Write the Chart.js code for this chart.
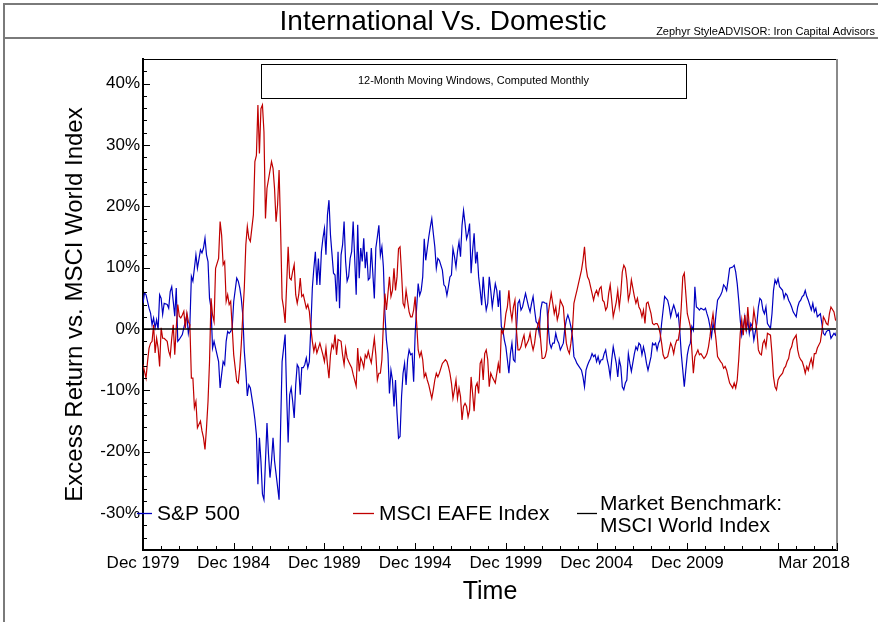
<!DOCTYPE html>
<html>
<head>
<meta charset="utf-8">
<script src="https://cdn.jsdelivr.net/npm/chart.js@4.4.1/dist/chart.umd.min.js"></script>
<style>
  html, body { margin: 0; padding: 0; background: #fff; }
  #wrap { width: 878px; height: 622px; }
</style>
</head>
<body>
<div id="wrap"><canvas id="chart" width="878" height="622"></canvas></div>
<script>
// texts
const chartTitle = "International Vs. Domestic";
const sourceNote = "Zephyr StyleADVISOR: Iron Capital Advisors";
const boxNote = "12-Month Moving Windows, Computed Monthly";
const yTitle = "Excess Return vs. MSCI World Index";
const xTitle = "Time";

// x axis = months since Dec 1979 (0) .. Mar 2018 (459)
const xMin = 0, xMax = 459;
const xTickLabels = { 0: "Dec 1979", 60: "Dec 1984", 120: "Dec 1989", 180: "Dec 1994",
  240: "Dec 1999", 300: "Dec 2004", 360: "Dec 2009", 459: "Mar 2018" };
const xMajorTicks = [0, 60, 120, 180, 240, 300, 360, 420, 459];
const yMin = -36, yMax = 44, yMinorStep = 2, yMajorStep = 10;

// [month, excess return %]
const sp500Excess = [
  [0,4.2],[1,5.9],[2,5.6],[4,3.4],[5,2.6],[6,0.7],[7,1.8],[8,0.2],[9,1.5],[10,-0.1],
  [11,5.6],[12,5.0],[13,2.4],[14,4.2],[16,4.0],[17,3.4],[18,6.1],[19,6.9],[20,4.5],[21,2.1],
  [22,6.7],[23,-2.0],[24,-1.7],[26,-0.9],[27,0.2],[28,1.2],[29,2.3],[30,-0.7],[31,0.7],[32,8.6],
  [33,7.8],[34,9.9],[35,12.1],[36,9.9],[38,12.9],[39,12.4],[40,13.2],[41,14.8],[42,12.1],[43,11.0],
  [44,5.0],[45,3.4],[46,-3.1],[47,-2.0],[48,-3.1],[50,-5.3],[51,-9.6],[52,-7.4],[53,-5.3],[54,-5.8],
  [55,-2.0],[56,-0.4],[57,-0.7],[58,-0.4],[59,0.2],[60,4.5],[62,8.3],[63,7.8],[64,6.7],[65,5.0],
  [66,2.3],[67,-3.6],[68,-6.9],[69,-10.9],[70,-9.1],[71,-9.6],[73,-12.8],[74,-14.7],[75,-17.2],[76,-25.3],
  [77,-17.7],[78,-21.5],[79,-26.9],[80,-27.8],[81,-21.5],[82,-15.3],[83,-20.4],[84,-24.2],[85,-21.5],[86,-17.7],
  [87,-21.5],[90,-27.8],[91,-16.1],[92,-5.3],[93,-3.1],[94,-0.9],[95,-10.7],[96,-18.5],[97,-10.7],[98,-9.6],
  [99,-11.8],[100,-14.5],[101,-9.1],[102,-5.8],[103,-6.3],[104,-10.7],[105,-6.3],[106,-6.3],[107,-5.8],[108,-4.7],
  [109,-6.3],[110,-5.3],[111,0.2],[112,6.7],[113,9.9],[114,12.6],[115,7.2],[116,11.5],[117,7.2],[118,12.6],
  [119,14.8],[120,16.4],[121,12.1],[122,18.6],[123,21.0],[124,15.3],[126,9.1],[127,8.8],[128,4.5],[129,12.6],
  [130,3.4],[131,12.1],[132,13.7],[133,17.5],[134,11.0],[135,7.8],[136,8.6],[137,11.5],[138,12.6],[139,17.5],
  [141,5.6],[142,17.0],[143,8.3],[144,13.2],[145,11.0],[146,14.8],[147,9.9],[148,12.6],[149,8.0],[150,8.3],
  [151,13.2],[153,5.0],[154,13.2],[155,15.0],[156,16.9],[157,12.0],[158,13.4],[159,10.1],[160,2.5],[161,-1.8],
  [162,-4.0],[163,-10.5],[164,-6.7],[165,-8.3],[166,-12.6],[167,-8.3],[168,-13.7],[169,-17.8],[170,-17.5],[171,-11.0],
  [172,-7.2],[173,-5.6],[174,-9.1],[175,-5.0],[176,-3.4],[177,-4.2],[178,-4.0],[179,-8.6],[180,-0.7],[181,3.6],
  [182,7.4],[183,5.5],[184,6.3],[185,8.5],[186,14.7],[187,11.2],[188,13.1],[189,15.0],[190,16.6],[191,18.0],
  [192,15.6],[193,13.4],[194,9.9],[195,11.5],[196,11.2],[198,9.6],[199,7.2],[200,6.9],[201,5.5],[202,6.9],
  [203,8.5],[204,8.8],[205,13.1],[206,11.8],[207,10.1],[208,12.6],[209,14.2],[210,11.8],[211,16.9],[212,19.3],
  [213,17.2],[214,14.7],[215,15.6],[216,17.2],[217,9.1],[218,12.8],[219,15.6],[220,10.7],[221,12.6],[222,8.5],
  [223,6.3],[224,3.9],[225,8.5],[226,5.3],[227,3.1],[228,4.2],[229,8.5],[230,6.3],[231,3.6],[233,7.4],
  [234,6.3],[235,3.6],[236,6.3],[237,0.4],[238,-0.2],[239,-1.8],[240,-2.9],[241,-5.0],[242,-7.2],[243,-4.0],
  [244,-2.3],[245,-5.0],[246,-5.3],[247,-0.2],[248,4.2],[249,4.7],[250,3.1],[251,3.6],[252,4.7],[253,5.8],
  [255,3.6],[256,2.8],[257,4.2],[258,5.3],[259,3.1],[260,1.2],[261,0.9],[262,-0.7],[263,3.1],[264,4.4],
  [265,4.4],[266,4.2],[267,4.2],[268,0.4],[269,-2.3],[270,-3.1],[271,-2.3],[272,-2.3],[273,-0.7],[274,-1.8],
  [275,-2.3],[276,-3.4],[278,-2.3],[279,0.1],[280,1.5],[281,2.3],[282,1.5],[283,0.4],[284,-1.2],[285,-4.5],
  [286,-5.0],[287,-5.6],[290,-6.7],[291,-7.8],[292,-9.4],[293,-6.7],[294,-5.9],[295,-5.3],[296,-4.8],[297,-4.0],
  [298,-4.5],[299,-4.2],[300,-5.3],[301,-4.5],[302,-5.6],[303,-5.0],[304,-5.0],[305,-4.0],[306,-3.4],[307,-5.0],
  [308,-6.1],[309,-7.8],[310,-5.0],[311,-2.9],[313,-5.6],[314,-7.8],[315,-5.0],[316,-6.1],[317,-9.4],[318,-9.9],
  [319,-8.8],[320,-8.3],[321,-4.0],[322,-5.6],[323,-6.9],[325,-4.0],[326,-2.9],[327,-3.4],[328,-2.3],[329,-2.6],
  [330,-4.2],[331,-2.9],[332,-4.0],[333,-5.6],[334,-6.7],[336,-4.5],[337,-2.3],[338,-2.6],[339,-2.3],[340,-3.4],
  [341,-2.3],[342,-1.8],[343,0.9],[344,3.1],[345,5.3],[347,4.7],[348,3.6],[349,2.0],[350,3.1],[351,3.9],
  [352,3.1],[353,2.0],[354,2.5],[355,-0.2],[356,-4.0],[357,-6.7],[358,-9.4],[359,-6.7],[360,-4.2],[361,-2.9],
  [362,-2.3],[363,0.4],[364,-0.2],[365,6.9],[366,3.6],[367,3.4],[368,3.1],[369,3.4],[371,3.1],[372,3.4],
  [373,2.5],[374,1.7],[375,0.4],[376,-1.2],[377,0.9],[378,-0.2],[379,2.5],[380,4.7],[382,5.5],[383,6.1],
  [384,7.2],[385,6.9],[386,6.3],[387,8.0],[388,9.9],[390,10.1],[391,10.4],[392,9.3],[393,7.4],[394,4.7],
  [395,1.5],[396,-1.0],[397,0.4],[398,2.0],[399,-0.2],[400,1.5],[401,-0.7],[402,0.9],[403,0.4],[404,-1.8],
  [406,0.9],[407,3.6],[408,5.0],[409,4.7],[410,3.1],[411,2.5],[412,3.6],[413,0.9],[415,0.1],[416,2.5],
  [417,6.3],[418,8.0],[419,7.4],[420,8.2],[421,6.9],[423,6.3],[424,5.0],[425,5.8],[426,5.5],[427,4.7],
  [428,4.2],[429,3.6],[430,2.8],[432,2.0],[433,3.6],[434,4.4],[435,4.7],[436,5.3],[437,5.5],[438,6.3],
  [439,5.3],[440,4.7],[441,3.9],[442,3.1],[443,4.2],[444,2.8],[445,3.4],[446,2.0],[448,2.5],[449,0.9],
  [450,-0.7],[451,-1.0],[452,-0.4],[453,-0.2],[454,-0.2],[455,-1.5],[457,-0.7],[458,-1.0],[459,-0.2]
];

const eafeExcess = [
  [0,-5.8],[1,-6.9],[2,-8.0],[3,-5.3],[4,-3.1],[5,-2.3],[6,-2.0],[7,0.7],[8,-3.9],[9,-1.5],
  [10,-3.1],[11,-6.1],[12,0.2],[13,-1.5],[14,-1.5],[16,-2.0],[17,-3.6],[18,-4.4],[19,-1.5],[20,0.7],
  [21,-4.2],[22,0.2],[23,4.0],[24,2.1],[25,1.8],[26,2.3],[27,2.9],[28,0.2],[29,2.6],[30,1.2],
  [31,0.7],[32,-8.0],[33,-8.0],[34,-12.8],[35,-11.8],[36,-16.1],[38,-15.0],[39,-16.6],[40,-17.7],[41,-19.6],
  [42,-16.1],[43,-11.8],[44,-5.3],[45,5.0],[46,2.3],[47,1.2],[48,9.9],[50,11.5],[51,17.5],[52,15.3],
  [53,10.5],[54,11.0],[55,4.5],[56,5.6],[57,4.0],[58,4.5],[59,0.2],[60,-4.2],[62,-8.5],[63,-8.8],
  [64,-6.3],[65,-2.5],[66,2.3],[67,6.7],[68,13.7],[69,16.7],[70,14.8],[71,14.3],[73,18.6],[74,27.3],
  [75,28.3],[76,36.5],[77,28.6],[78,35.9],[79,36.5],[80,32.1],[81,18.0],[82,22.9],[85,27.3],[86,26.2],
  [87,22.9],[88,17.5],[89,20.2],[90,25.9],[91,16.4],[92,5.0],[93,3.4],[94,1.0],[95,7.2],[96,13.4],
  [97,8.3],[98,8.0],[99,9.4],[100,10.5],[101,5.6],[102,4.2],[103,5.6],[104,8.3],[105,5.3],[106,5.6],
  [107,4.5],[108,3.4],[109,4.0],[110,2.9],[111,0.2],[112,-2.0],[113,-3.6],[114,-2.5],[115,-3.9],[116,-3.1],
  [117,-2.3],[119,-4.2],[120,-5.3],[121,-3.1],[122,-5.8],[123,-8.0],[124,-4.2],[125,-2.5],[126,-3.1],[127,-0.9],
  [128,-4.2],[129,-1.7],[131,-2.0],[132,-4.2],[133,-5.8],[134,-3.1],[135,-4.7],[136,-5.3],[137,-5.8],[138,-6.3],
  [139,-7.4],[141,-9.3],[142,-3.1],[143,-6.9],[144,-4.7],[145,-5.3],[146,-6.3],[147,-4.2],[148,-4.7],[149,-3.6],
  [150,-4.7],[151,-5.5],[153,-1.5],[154,-4.2],[155,-8.3],[156,-7.2],[157,-7.2],[158,-5.0],[159,0.9],[160,5.8],
  [161,3.1],[162,5.8],[163,8.5],[164,5.3],[165,6.3],[166,9.9],[167,6.3],[168,8.5],[169,13.1],[170,13.4],
  [171,9.1],[172,4.2],[173,3.6],[174,6.3],[176,2.8],[177,2.0],[178,2.0],[179,3.1],[180,5.3],[181,0.9],
  [182,-3.4],[183,-4.5],[184,-3.7],[185,-5.0],[186,-7.8],[187,-7.2],[188,-8.3],[189,-9.1],[190,-10.2],[191,-11.3],
  [192,-9.9],[193,-8.3],[194,-7.2],[195,-7.8],[196,-7.2],[198,-5.6],[199,-5.3],[200,-5.0],[201,-5.3],[202,-6.1],
  [203,-7.2],[204,-8.8],[205,-11.3],[206,-9.9],[207,-8.3],[208,-11.3],[209,-9.6],[210,-11.0],[211,-14.8],[212,-12.6],
  [213,-12.1],[214,-12.6],[215,-14.3],[216,-13.2],[217,-7.8],[218,-10.5],[219,-13.4],[220,-9.4],[221,-8.8],[222,-10.5],
  [223,-5.6],[224,-5.0],[225,-8.3],[226,-4.0],[227,-3.4],[228,-5.0],[229,-9.4],[230,-7.2],[231,-7.8],[233,-8.8],
  [234,-7.2],[235,-5.6],[236,-7.2],[237,-0.2],[238,-0.7],[239,0.4],[240,2.5],[241,3.6],[242,6.3],[243,3.1],
  [244,1.5],[245,3.6],[246,4.7],[247,-0.2],[248,-3.4],[249,-3.4],[250,-2.9],[251,-1.8],[252,-1.0],[253,-2.9],
  [255,-1.8],[256,-0.7],[257,-2.3],[258,-3.4],[259,-2.3],[260,-0.2],[261,0.4],[262,1.5],[263,-1.8],[264,-4.8],
  [265,-4.8],[266,-4.5],[267,-3.4],[268,2.5],[269,4.2],[270,5.8],[271,4.2],[272,2.5],[273,3.6],[274,1.5],
  [275,2.5],[276,4.7],[278,3.6],[279,0.4],[280,-2.3],[281,-3.4],[282,-4.0],[283,-2.3],[284,-0.2],[285,4.2],
  [286,5.3],[287,6.3],[290,9.6],[291,11.2],[292,13.4],[293,10.1],[294,8.5],[295,8.0],[296,6.9],[297,5.8],
  [298,4.7],[299,5.8],[300,6.3],[301,5.5],[302,6.6],[303,6.9],[304,4.7],[305,4.4],[306,3.1],[307,3.6],
  [308,5.8],[309,7.2],[310,4.7],[311,2.0],[313,4.4],[314,6.3],[315,3.6],[316,5.8],[317,9.3],[318,10.4],
  [319,9.9],[320,8.0],[321,4.7],[322,5.8],[323,8.0],[325,5.3],[326,4.2],[327,5.0],[328,3.6],[329,3.1],
  [330,2.0],[331,3.1],[332,0.9],[333,4.2],[334,4.4],[336,2.5],[337,0.9],[338,0.7],[339,0.9],[340,0.9],
  [341,0.4],[342,-0.7],[343,-2.3],[344,-4.2],[345,-4.8],[347,-4.5],[348,-3.4],[349,-2.3],[350,-2.9],[351,-4.0],
  [352,-2.6],[353,-1.8],[354,-1.8],[355,-0.2],[356,3.6],[357,8.5],[358,9.1],[359,5.8],[360,2.5],[361,1.5],
  [362,0.4],[363,-3.4],[364,-7.2],[365,-4.5],[366,-4.0],[367,-3.4],[368,-4.2],[369,-4.0],[371,-4.8],[372,-4.5],
  [373,-4.0],[374,-2.9],[375,-1.2],[376,0.9],[377,2.5],[378,0.4],[379,-1.8],[380,-4.5],[382,-5.3],[383,-5.6],
  [384,-6.4],[385,-6.1],[386,-6.7],[387,-7.8],[388,-8.8],[390,-9.6],[391,-8.8],[392,-9.6],[393,-8.3],[394,-5.0],
  [395,-0.7],[396,1.5],[397,-1.0],[398,2.3],[399,-0.4],[400,3.6],[401,0.4],[402,-0.2],[403,0.4],[404,3.1],
  [406,-0.2],[407,-3.4],[408,-4.0],[409,-4.2],[410,-2.3],[411,-1.8],[412,-2.9],[413,-0.7],[415,-1.0],[416,-4.0],
  [417,-7.8],[418,-9.4],[419,-9.9],[420,-8.3],[421,-7.8],[423,-7.2],[424,-6.4],[425,-6.1],[426,-5.3],[427,-4.8],
  [428,-3.4],[429,-2.9],[430,-1.8],[432,-1.0],[433,-3.4],[434,-4.5],[435,-5.0],[436,-5.3],[437,-6.1],[438,-7.2],
  [439,-6.1],[440,-6.7],[441,-5.6],[442,-4.8],[443,-6.1],[444,-4.0],[445,-4.0],[446,-3.1],[448,-2.1],[449,-0.4],
  [450,2.0],[451,1.5],[452,0.9],[453,0.7],[454,2.5],[455,3.6],[457,2.8],[458,1.5],[459,1.2]
];

const benchmarkExcess = [[0, 0], [459, 0]];

const seriesNames = ["S&P 500", "MSCI EAFE Index", ["Market Benchmark:", "MSCI World Index"]];
const seriesColors = ["#0000c0", "#c00000", "#000000"];

const FONT = '"Liberation Sans", Arial, Helvetica, sans-serif';
const TICK_SIZE = 17;

function toXY(list) {
	return list.map((p) => ({ x: p[0], y: p[1] }));
}

function yearTicks() {
	let out = [];
	for (let m = xMin; m < xMax; m += 12) out.push({ value: m });
	out.push({ value: xMax });
	return out;
}

function pctTicks() {
	let out = [];
	for (let v = yMin; v <= yMax; v += yMinorStep) out.push({ value: v });
	return out;
}

// header, frame, inward ticks, note box and legend drawn on top of the chart
const decor = {
	id: "decor",
	afterDraw(chart) {
		const c = chart.ctx;
		const a = chart.chartArea;
		const xs = chart.scales.x;
		const ys = chart.scales.y;
		c.save();

		// page frame + header rule
		c.strokeStyle = "#7a7a7a";
		c.lineWidth = 2;
		c.beginPath();
		c.moveTo(4, chart.height);
		c.lineTo(4, 4);
		c.lineTo(chart.width, 4);
		c.moveTo(4, 38);
		c.lineTo(chart.width, 38);
		c.stroke();

		c.fillStyle = "#000";
		c.font = "28px " + FONT;
		c.textAlign = "center";
		c.textBaseline = "middle";
		c.fillText(chartTitle, 443, 22);

		c.font = "11px " + FONT;
		c.textAlign = "right";
		c.textBaseline = "alphabetic";
		c.fillText(sourceNote, chart.width - 3, 35);

		// plot frame top / right
		c.strokeStyle = "#000";
		c.lineWidth = 1;
		c.beginPath();
		c.moveTo(a.left, a.top + 0.5);
		c.lineTo(a.right, a.top + 0.5);
		c.stroke();
		c.strokeStyle = "#8a8a8a";
		c.lineWidth = 2;
		c.beginPath();
		c.moveTo(a.right, a.top);
		c.lineTo(a.right, a.bottom);
		c.stroke();

		// ticks pointing into the plot
		c.strokeStyle = "#000";
		c.lineWidth = 1;
		c.beginPath();
		ys.ticks.forEach((t) => {
			if (t.value <= yMin || t.value >= yMax) return;
			const y = Math.round(ys.getPixelForValue(t.value)) + 0.5;
			const len = t.value % yMajorStep === 0 ? 7 : 4;
			c.moveTo(a.left, y);
			c.lineTo(a.left + len, y);
		});
		xs.ticks.forEach((t) => {
			const x = Math.round(xs.getPixelForValue(t.value)) + 0.5;
			const len = xMajorTicks.includes(t.value) ? 7 : 4;
			c.moveTo(x, a.bottom);
			c.lineTo(x, a.bottom - len);
		});
		c.stroke();

		// last date label sits pulled in from the axis end
		c.fillStyle = "#000";
		c.font = TICK_SIZE + "px " + FONT;
		c.textAlign = "right";
		c.textBaseline = "middle";
		c.fillText(xTickLabels[xMax], xs.getPixelForValue(xMax) + 13, xs.top + 3 + TICK_SIZE * 0.6);

		// note box
		const bx = a.left + 118, by = a.top + 5, bw = 425, bh = 34;
		c.fillStyle = "#fff";
		c.fillRect(bx, by, bw, bh);
		c.strokeStyle = "#000";
		c.lineWidth = 1;
		c.strokeRect(bx + 0.5, by + 0.5, bw, bh);
		c.fillStyle = "#000";
		c.font = "11px " + FONT;
		c.textAlign = "center";
		c.textBaseline = "middle";
		c.fillText(boxNote, bx + bw / 2, by + bh / 2);

		// legend inside the plot
		const ly = a.bottom - 37;
		const items = [
			{ x0: a.left - 6, x1: a.left + 9, tx: a.left + 14 },
			{ x0: a.left + 210, x1: a.left + 231, tx: a.left + 236 },
			{ x0: a.left + 434, x1: a.left + 454, tx: a.left + 457 }
		];
		c.font = "21px " + FONT;
		c.textAlign = "left";
		c.textBaseline = "middle";
		items.forEach((it, i) => {
			c.strokeStyle = seriesColors[i];
			c.lineWidth = 1.3;
			c.beginPath();
			c.moveTo(it.x0, ly + 0.5);
			c.lineTo(it.x1, ly + 0.5);
			c.stroke();
			c.fillStyle = "#000";
			const name = seriesNames[i];
			if (Array.isArray(name)) {
				c.fillText(name[0], it.tx, ly - 9);
				c.fillText(name[1], it.tx, ly + 13);
			} else {
				c.fillText(name, it.tx, ly + 1);
			}
		});
		c.restore();
	}
};

const ctx = document.getElementById("chart");
new Chart(ctx, {
	type: "line",
	data: {
		datasets: [
			{ label: "Market Benchmark: MSCI World Index", data: toXY(benchmarkExcess),
			  borderColor: seriesColors[2], borderWidth: 1.5, pointRadius: 0, order: 0 },
			{ label: "MSCI EAFE Index", data: toXY(eafeExcess),
			  borderColor: seriesColors[1], borderWidth: 1.2, pointRadius: 0, order: 1 },
			{ label: "S&P 500", data: toXY(sp500Excess),
			  borderColor: seriesColors[0], borderWidth: 1.2, pointRadius: 0, order: 2 }
		]
	},
	options: {
		responsive: false,
		animation: false,
		layout: { padding: { left: 6, right: 41, top: 59, bottom: 0 } },
		plugins: {
			legend: { display: false },
			tooltip: { enabled: false },
			title: { display: false }
		},
		scales: {
			x: {
				type: "linear",
				min: xMin,
				max: xMax,
				afterBuildTicks: (s) => { s.ticks = yearTicks(); },
				afterFit: (s) => { s.height = 72; },
				grid: { display: false, drawTicks: false },
				border: { display: true, color: "#000", width: 2 },
				ticks: {
					autoSkip: false, maxRotation: 0, padding: 3, color: "#000",
					font: { family: FONT, size: TICK_SIZE },
					callback: (v) => (v === xMax ? "" : xTickLabels[v] || "")
				},
				title: {
					display: true, text: xTitle, color: "#000",
					font: { family: FONT, size: 25 },
					padding: { top: 0, bottom: 15 }
				}
			},
			y: {
				type: "linear",
				min: yMin,
				max: yMax,
				afterBuildTicks: (s) => { s.ticks = pctTicks(); },
				afterFit: (s) => { s.width = 137; },
				grid: { display: false, drawTicks: false },
				border: { display: true, color: "#000", width: 2 },
				ticks: {
					autoSkip: false, padding: 3, color: "#000",
					font: { family: FONT, size: TICK_SIZE },
					callback: (v) => (v % yMajorStep === 0 ? v + "%" : "")
				},
				title: {
					display: true, text: yTitle, color: "#000",
					font: { family: FONT, size: 24 },
					padding: { top: 55, bottom: 0 }
				}
			}
		}
	},
	plugins: [decor]
});
</script>
</body>
</html>
